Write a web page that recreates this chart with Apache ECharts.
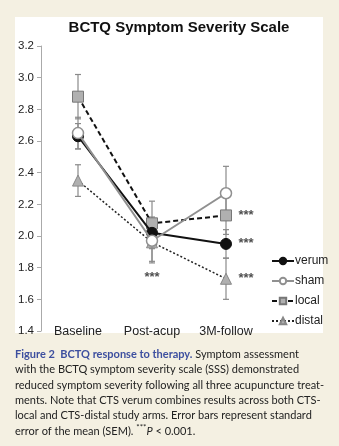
<!DOCTYPE html>
<html><head><meta charset="utf-8">
<script src="https://cdn.jsdelivr.net/npm/echarts@6/dist/echarts.min.js"></script>
<style>html,body{margin:0;padding:0;background:#f4f0e2;}#c{width:339px;height:446px;}</style>
</head><body><div id="c"></div>
<script>
var categories = ['Baseline', 'Post-acup', '3M-follow'];
var verum = [2.63, 2.02, 1.95];
var sham = [2.65, 1.97, 2.27];
var local = [2.88, 2.08, 2.13];
var distal = [2.35, 1.96, 1.73];
var verumErr = [0.08, 0.10, 0.09];
var shamErr = [0.10, 0.13, 0.17];
var localErr = [0.14, 0.14, 0.12];
var distalErr = [0.10, 0.13, 0.13];
var yTicks = [1.4, 1.6, 1.8, 2.0, 2.2, 2.4, 2.6, 2.8, 3.0, 3.2];
var starsFollow = [2.13, 1.95, 1.73];
var starPost = 1.74;

function errData(vals, errs) {
  return vals.map(function (v, i) { return [i, v - errs[i], v + errs[i]]; });
}
var allErr = [].concat(errData(local, localErr), errData(sham, shamErr), errData(verum, verumErr), errData(distal, distalErr));

var chart = echarts.init(document.getElementById('c'));
var FONT = 'Liberation Sans';
chart.setOption({
  animation: false,
  backgroundColor: '#f4f0e2',
  textStyle: { fontFamily: FONT },
  grid: { left: 41, right: 76, top: 46, bottom: 115 },
  xAxis: {
    type: 'category', data: categories,
    axisLine: { show: false }, axisTick: { show: false },
    axisLabel: { margin: -6, color: '#222', fontSize: 12.5, fontFamily: FONT }
  },
  yAxis: {
    type: 'value', min: yTicks[0], max: yTicks[yTicks.length - 1], interval: 0.2,
    splitLine: { show: false },
    axisLine: { show: true, lineStyle: { color: '#aaa', width: 1 } },
    axisTick: { show: true, length: 4, lineStyle: { color: '#aaa' } },
    axisLabel: { color: '#222', fontSize: 11.5, margin: 7, fontFamily: FONT, formatter: function (v) { return v.toFixed(1); } }
  },
  legend: {
    orient: 'vertical', left: 266, top: 250, itemGap: 8, itemWidth: 22, itemHeight: 8,
    textStyle: { color: '#222', fontSize: 12, fontFamily: FONT, padding: [0, 0, 0, -4] },
    data: ['verum', 'sham', 'local', 'distal']
  },
  graphic: [
    { type: 'rect', z: -10, shape: { x: 15, y: 17, width: 308, height: 316 }, style: { fill: '#ffffff' } },
    { type: 'text', z: 10, style: { text: 'BCTQ Symptom Severity Scale', x: 179, y: 28, textAlign: 'center', textVerticalAlign: 'middle', font: 'bold 15px "Liberation Sans"', fill: '#111' } },
    { type: 'text', z: 10, left: 15, top: 347, style: {
      text: '{b|Figure 2  BCTQ response to therapy.} Symptom assessment\nwith the BCTQ symptom severity scale (SSS) demonstrated\nreduced symptom severity following all three acupuncture treat-\nments. Note that CTS verum combines results across both CTS-\nlocal and CTS-distal study arms. Error bars represent standard\nerror of the mean (SEM). {s|***}{i|P} < 0.001.',
      font: '11px Lato', fill: '#222', lineHeight: 15.3,
      rich: {
        b: { font: 'bold 11px Lato', fill: '#3d4f9f', lineHeight: 15.3 },
        s: { font: '8px Lato', fill: '#222', verticalAlign: 'top', lineHeight: 15.3 },
        i: { font: 'italic 11px Lato', fill: '#222', lineHeight: 15.3 }
      }
    } }
  ],
  series: [
    {
      type: 'custom', name: 'err', z: 1, silent: true,
      data: allErr,
      renderItem: function (params, api) {
        var x = api.coord([api.value(0), api.value(1)])[0];
        var y1 = api.coord([api.value(0), api.value(1)])[1];
        var y2 = api.coord([api.value(0), api.value(2)])[1];
        var st = { stroke: '#8a8a8a', lineWidth: 1.2 };
        return { type: 'group', children: [
          { type: 'line', shape: { x1: x, y1: y1, x2: x, y2: y2 }, style: st },
          { type: 'line', shape: { x1: x - 3, y1: y1, x2: x + 3, y2: y1 }, style: st },
          { type: 'line', shape: { x1: x - 3, y1: y2, x2: x + 3, y2: y2 }, style: st }
        ] };
      }
    },
    { name: 'distal', type: 'line', data: distal, z: 3, symbol: 'triangle', symbolSize: 11,
      lineStyle: { color: '#222', width: 1.5, type: [2, 2] },
      itemStyle: { color: '#b0b0b0', borderColor: '#888', borderWidth: 1 } },
    { name: 'local', type: 'line', data: local, z: 4, symbol: 'rect', symbolSize: 11,
      lineStyle: { color: '#111', width: 2, type: [5, 3] },
      itemStyle: { color: '#b0b0b0', borderColor: '#777', borderWidth: 1 } },
    { name: 'verum', type: 'line', data: verum, z: 5, symbol: 'circle', symbolSize: 11,
      lineStyle: { color: '#111', width: 2 },
      itemStyle: { color: '#111', borderColor: '#111', borderWidth: 1 } },
    { name: 'sham', type: 'line', data: sham, z: 6, symbol: 'circle', symbolSize: 11,
      lineStyle: { color: '#909090', width: 2 },
      itemStyle: { color: '#ffffff', borderColor: '#909090', borderWidth: 1.5 } },
    { name: 'stars', type: 'scatter', z: 7, silent: true, symbolSize: 0,
      data: starsFollow.map(function (v) { return [2, v]; }).concat([[1, starPost]]),
      label: { show: true, formatter: '***', position: 'inside', fontSize: 13, fontWeight: 'bold', color: '#222',
        offset: [0, 2] },
      labelLayout: function (p) { return p.dataIndex < 3 ? { dx: 20 } : {}; }
    }
  ]
});
</script></body></html>
